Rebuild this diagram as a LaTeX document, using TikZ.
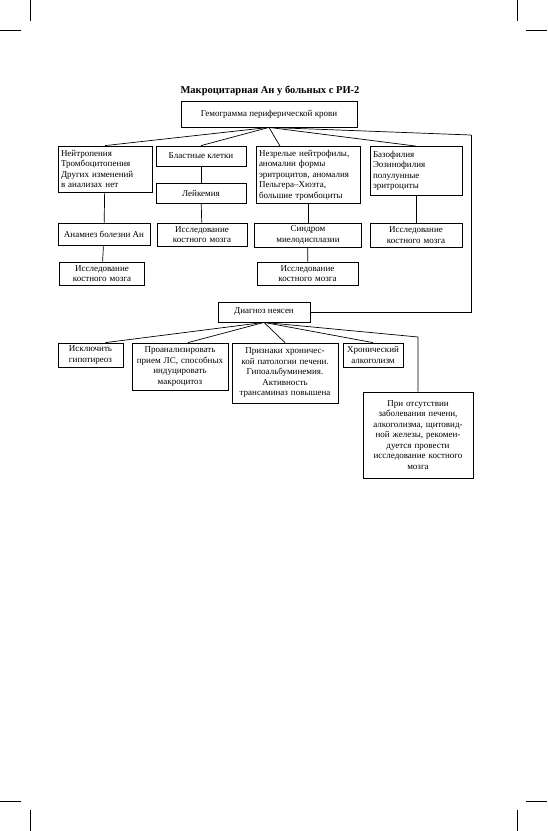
\documentclass[tikz,border=0pt]{standalone}
\usepackage{fontspec}
\setmainfont{Liberation Serif}
\begin{document}
\begin{tikzpicture}[x=1pt,y=-1pt,
    box/.style={draw, line width=0.8pt, inner xsep=3pt, inner ysep=2pt,
      font=\fontsize{9}{10.5}\selectfont},
    wire/.style={line width=0.7pt}]
  \useasboundingbox (0,0) rectangle (547,831);

  % crop marks
  \draw[line width=0.5pt] (30,0) to (30,21);
  \draw[line width=0.5pt] (0,30) to (21,30);
  \draw[line width=0.5pt] (517,0) to (517,21);
  \draw[line width=0.5pt] (526,30) to (547,30);
  \draw[line width=0.5pt] (30,810) to (30,831);
  \draw[line width=0.5pt] (0,801) to (21,801);
  \draw[line width=0.5pt] (517,810) to (517,831);
  \draw[line width=0.5pt] (526,801) to (547,801);

  \node[font=\fontsize{10.5}{12}\selectfont\bfseries] (title) at(270,91){Макроцитарная Ан у больных с РИ-2};
  \node[box, minimum width=176, minimum height=26] (krov) at(269,114){Гемограмма периферической крови};

  \node[box, text width=88, minimum height=46, align=left] (neitr) at(105,169){Нейтропения\\Тромбоцитопения\\Других изменений\\в анализах нет};
  \node[box, minimum width=90, minimum height=20] (blast) at(201,156){Бластные клетки};
  \node[box, minimum width=90, minimum height=20] (leik) at(201,193){Лейкемия};
  \node[box, text width=98, minimum height=57, align=left] (nezr) at(308,175){Незрелые нейтрофилы,\\аномалии формы\\эритроцитов, аномалия\\Пельгера--Хюэта,\\большие тромбоциты};
  \node[box, text width=86, minimum height=49, align=left] (bazo) at(416,171){Базофилия\\Эозинофилия\\полулунные\\эритроциты};

  \node[box, minimum width=92, minimum height=22] (anamn) at(104,234){Анамнез болезни Ан};
  \node[box, text width=79, minimum height=23, align=center] (km1) at(102,273.5){Исследование\\костного мозга};
  \node[box, text width=84, minimum height=23, align=center] (km2) at(202,234.5){Исследование\\костного мозга};
  \node[box, text width=101, minimum height=24, align=center] (mds) at(308,235){Синдром\\миелодисплазии};
  \node[box, text width=95, minimum height=23, align=center] (km3) at(307.5,273.5){Исследование\\костного мозга};
  \node[box, text width=86, minimum height=24, align=center] (km4) at(416,235){Исследование\\костного мозга};

  \node[box, minimum width=92, minimum height=20] (dx) at(264,312){Диагноз неясен};

  \node[box, text width=59, minimum height=24, align=center] (gipo) at(90.5,355){Исключить\\гипотиреоз};
  \node[box, text width=90, minimum height=47, align=center] (ls) at(180,366.5){Проанализировать\\прием ЛС, способных\\индуцировать\\макроцитоз};
  \node[box, text width=100, minimum height=60, align=center] (pech) at(285,373){Признаки хроничес-\\кой патологии печени.\\Гипоальбуминемия.\\Активность\\трансаминаз повышена};
  \node[box, text width=54, minimum height=24, align=center] (alk) at(373,355){Хронический\\алкоголизм};
  \node[box, text width=104, minimum height=86, align=center] (rek) at(418,435){При отсутствии\\заболевания печени,\\алкоголизма, щитовид-\\ной железы, рекомен-\\дуется провести\\исследование костного\\мозга};

  \coordinate (rt) at(471,135);
  \coordinate (ez) at(418,337);

  \foreach \n in {neitr,blast,bazo}
    \draw[wire] (krov.south) to (\n.north);
  \draw[wire] (krov.south) to ([xshift=-28]nezr.north);
  \draw[wire] (krov.south) to (rt);
  \draw[wire] (dx.east) -| (rt);

  \draw[wire] (neitr) to (anamn);
  \draw[wire] (anamn) to (km1);
  \draw[wire] (blast) to (leik);
  \draw[wire] (leik) to (km2);
  \draw[wire] (nezr) to (mds);
  \draw[wire] (mds) to (km3);
  \draw[wire] (bazo) to (km4);

  \draw[wire] (dx.south) to ([xshift=15]gipo.north);
  \draw[wire] (dx.south) to ([xshift=8]ls.north);
  \draw[wire] (dx.south) to (pech.north);
  \draw[wire] (dx.south) to (alk.north);
  \draw[wire] (dx.south) to (ez) to (rek.north);

\end{tikzpicture}
\end{document}
